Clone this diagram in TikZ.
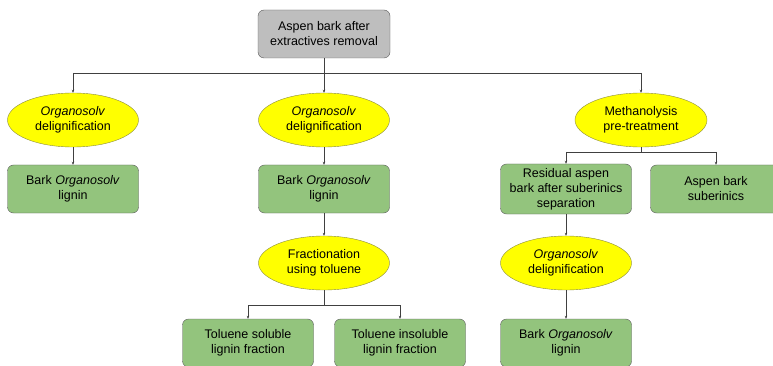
\documentclass[tikz,border=0pt]{standalone}
\usepackage{fontspec}
\setmainfont{Liberation Sans}
\usetikzlibrary{shapes.geometric,arrows.meta}
\definecolor{boxgray}{RGB}{190,190,190}
\definecolor{boxgreen}{RGB}{147,196,125}
\definecolor{ellyellow}{RGB}{255,255,0}
\definecolor{edgegray}{RGB}{90,90,90}
\begin{document}
\begin{tikzpicture}[x=1pt,y=-1pt,
  every node/.style={font=\fontsize{12.5}{15}\selectfont, align=center, inner sep=0pt},
  graybox/.style={draw=edgegray, fill=boxgray, rounded corners=6pt, minimum width=132pt, minimum height=48pt},
  greenbox/.style={draw=edgegray, fill=boxgreen, rounded corners=6pt, minimum width=131pt, minimum height=48pt},
  proc/.style={ellipse, draw=edgegray!70!yellow, fill=ellyellow, minimum width=131pt, minimum height=54pt},
  conn/.style={draw=black!75, line width=0.6pt},
  arr/.style={conn, -{Stealth[length=3pt,width=2.5pt]}}
]
\useasboundingbox (0,0) rectangle (773,366);
\begin{scope}
\clip (0,0) rectangle (773,366);
\node[graybox] (top) at (324,34) {Aspen bark after\\extractives removal};
\node[proc] (e1) at (73,120) {\textit{Organosolv}\\delignification};
\node[proc] (e2) at (324,120) {\textit{Organosolv}\\delignification};
\node[proc, minimum width=132pt] (e3) at (641,120) {Methanolysis\\pre-treatment};
\node[greenbox] (g1) at (73,189) {Bark \textit{Organosolv}\\lignin};
\node[greenbox] (g2) at (324,189) {Bark \textit{Organosolv}\\lignin};
\node[proc] (e4) at (324,263) {Fractionation\\using toluene};
\node[greenbox] (g3) at (248,343) {Toluene soluble\\lignin fraction};
\node[greenbox] (g4) at (400,343) {Toluene insoluble\\lignin fraction};
\node[greenbox, minimum height=50pt] (g5) at (566,189) {Residual aspen\\bark after suberinics\\separation};
\node[greenbox] (g6) at (716,189) {Aspen bark\\suberinics};
\node[proc] (e5) at (566,263) {\textit{Organosolv}\\delignification};
\node[greenbox] (g7) at (566,343) {Bark \textit{Organosolv}\\lignin};

\coordinate (j1) at (324,73);
\coordinate (j1l) at (73,73);
\coordinate (j1r) at (641,73);
\draw[conn] (top.south) -- (j1);
\draw[conn] (j1l) -- (j1r);
\draw[arr] (j1l) -- (e1.north);
\draw[arr] (j1) -- (e2.north);
\draw[arr] (j1r) -- (e3.north);
\draw[arr] (e1) -- (g1);
\draw[arr] (e2) -- (g2);
\draw[arr] (g2) -- (e4);

\coordinate (j2) at (324,305);
\coordinate (j2l) at (248,305);
\coordinate (j2r) at (400,305);
\draw[conn] (e4.south) -- (j2);
\draw[conn] (j2l) -- (j2r);
\draw[arr] (j2l) -- (g3.north);
\draw[arr] (j2r) -- (g4.north);

\coordinate (j3) at (641,152);
\coordinate (j3l) at (566,152);
\coordinate (j3r) at (716,152);
\draw[conn] (e3.south) -- (j3);
\draw[conn] (j3l) -- (j3r);
\draw[arr] (j3l) -- (g5.north);
\draw[arr] (j3r) -- (g6.north);
\draw[arr] (g5) -- (e5);
\draw[arr] (e5) -- (g7);
\end{scope}
\end{tikzpicture}
\end{document}
